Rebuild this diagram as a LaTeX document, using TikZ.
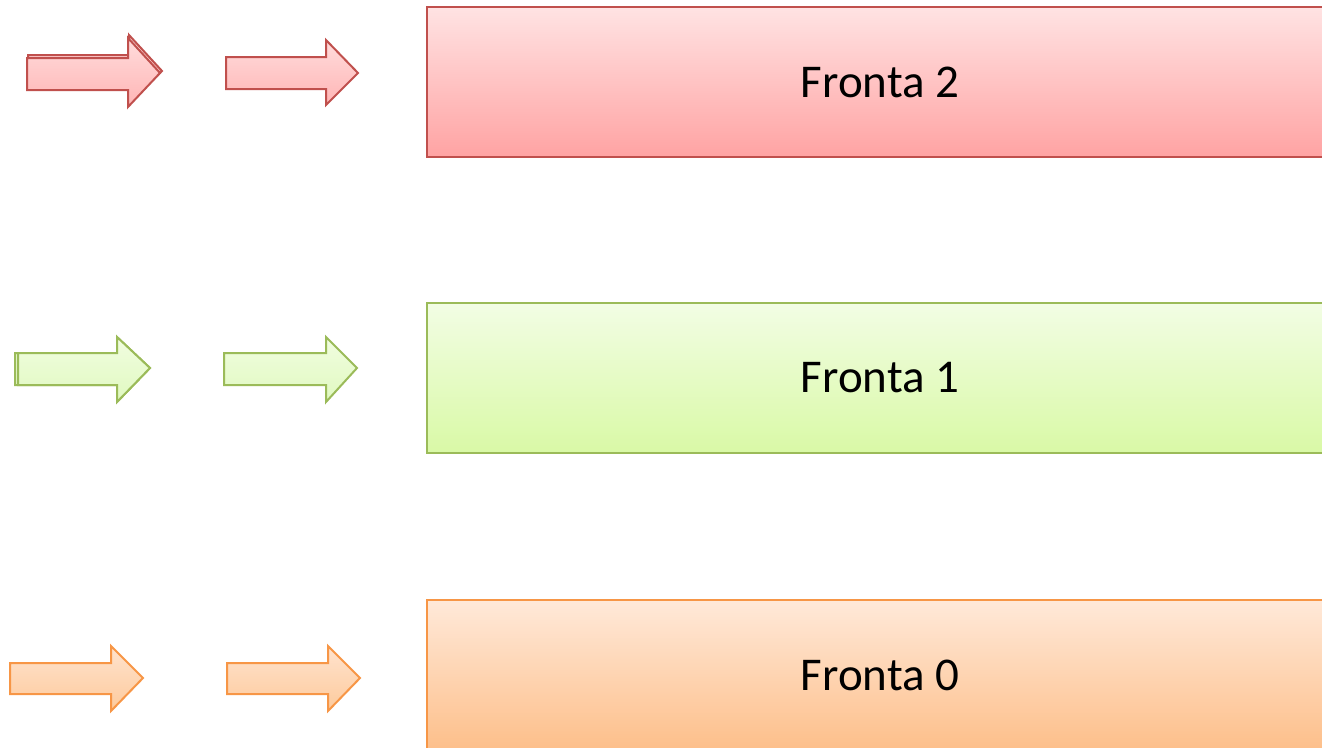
\documentclass[tikz,border=0pt]{standalone}
\usepackage{fontspec}
\setmainfont{Carlito}
\definecolor{redline}{HTML}{C0504D}
\definecolor{greenline}{HTML}{9BBB59}
\definecolor{orangeline}{HTML}{F79646}
\definecolor{redtop}{HTML}{FFE3E3}
\definecolor{redbot}{HTML}{FFA3A3}
\definecolor{greentop}{HTML}{F2FDE4}
\definecolor{greenbot}{HTML}{D9F9A6}
\definecolor{orangetop}{HTML}{FFE9D9}
\definecolor{orangebot}{HTML}{FDBF8A}
\definecolor{rarrtop}{HTML}{FFDCDC}
\definecolor{rarrbot}{HTML}{FFB5B5}
\definecolor{garrtop}{HTML}{F1FDE0}
\definecolor{garrbot}{HTML}{E0F9C0}
\definecolor{oarrtop}{HTML}{FFE3CE}
\definecolor{oarrbot}{HTML}{FDCA9C}
% arrow: style, left, shafttop, shaftbottom, headx, headtop, headbottom, tipx, tipy
\newcommand\fatarrow[9]{%
  \draw[#1] (#2,#3) -- (#5,#3) -- (#5,#6) -- (#8,#9) -- (#5,#7) -- (#5,#4) -- (#2,#4) -- cycle;}
\newcommand\bartext[1]{\raisebox{-2pt}{#1}}
\tikzset{
  bar/.style={draw, line width=2.3pt, minimum width=906pt, minimum height=150pt,
    inner sep=0pt, font=\fontsize{47}{50}\selectfont, shading=axis},
  redbar/.style={bar, draw=redline, top color=redtop, bottom color=redbot},
  greenbar/.style={bar, draw=greenline, top color=greentop, bottom color=greenbot},
  orangebar/.style={bar, draw=orangeline, top color=orangetop, bottom color=orangebot},
  fatarr/.style={line width=2pt, line join=miter},
  redarrow/.style={fatarr, draw=redline, top color=rarrtop, bottom color=rarrbot},
  greenarrow/.style={fatarr, draw=greenline, top color=garrtop, bottom color=garrbot},
  orangearrow/.style={fatarr, draw=orangeline, top color=oarrtop, bottom color=oarrbot},
}
\begin{document}
\begin{tikzpicture}[x=1pt,y=-1pt]
\useasboundingbox (0,0) rectangle (1322,747);
\clip (0,0) rectangle (1322,747);
% boxes
\node[redbar] (f2) at (880,82) {\bartext{Fronta 2}};
\node[greenbar] (f1) at (880,378) {\bartext{Fronta 1}};
\node[orangebar] (f0) at (880,675) {\bartext{Fronta 0}};
% red arrows
\fatarrow{redarrow}{28}{55}{87}{129}{35}{104}{162}{71}
\fatarrow{redarrow}{27}{58}{90}{128}{38}{107}{160}{73}
\fatarrow{redarrow}{226}{57}{89}{326}{40}{105}{358}{73}
% green arrows
\fatarrow{greenarrow}{15}{353}{385}{117}{337}{402}{150}{368}
\fatarrow{greenarrow}{18}{353}{385}{117}{337}{402}{150}{368}
\fatarrow{greenarrow}{224}{353}{385}{326}{337}{402}{357}{368}
% orange arrows
\fatarrow{orangearrow}{10}{663}{694}{111}{646}{711}{143}{678}
\fatarrow{orangearrow}{227}{663}{694}{328}{646}{711}{360}{678}
\end{tikzpicture}
\end{document}
